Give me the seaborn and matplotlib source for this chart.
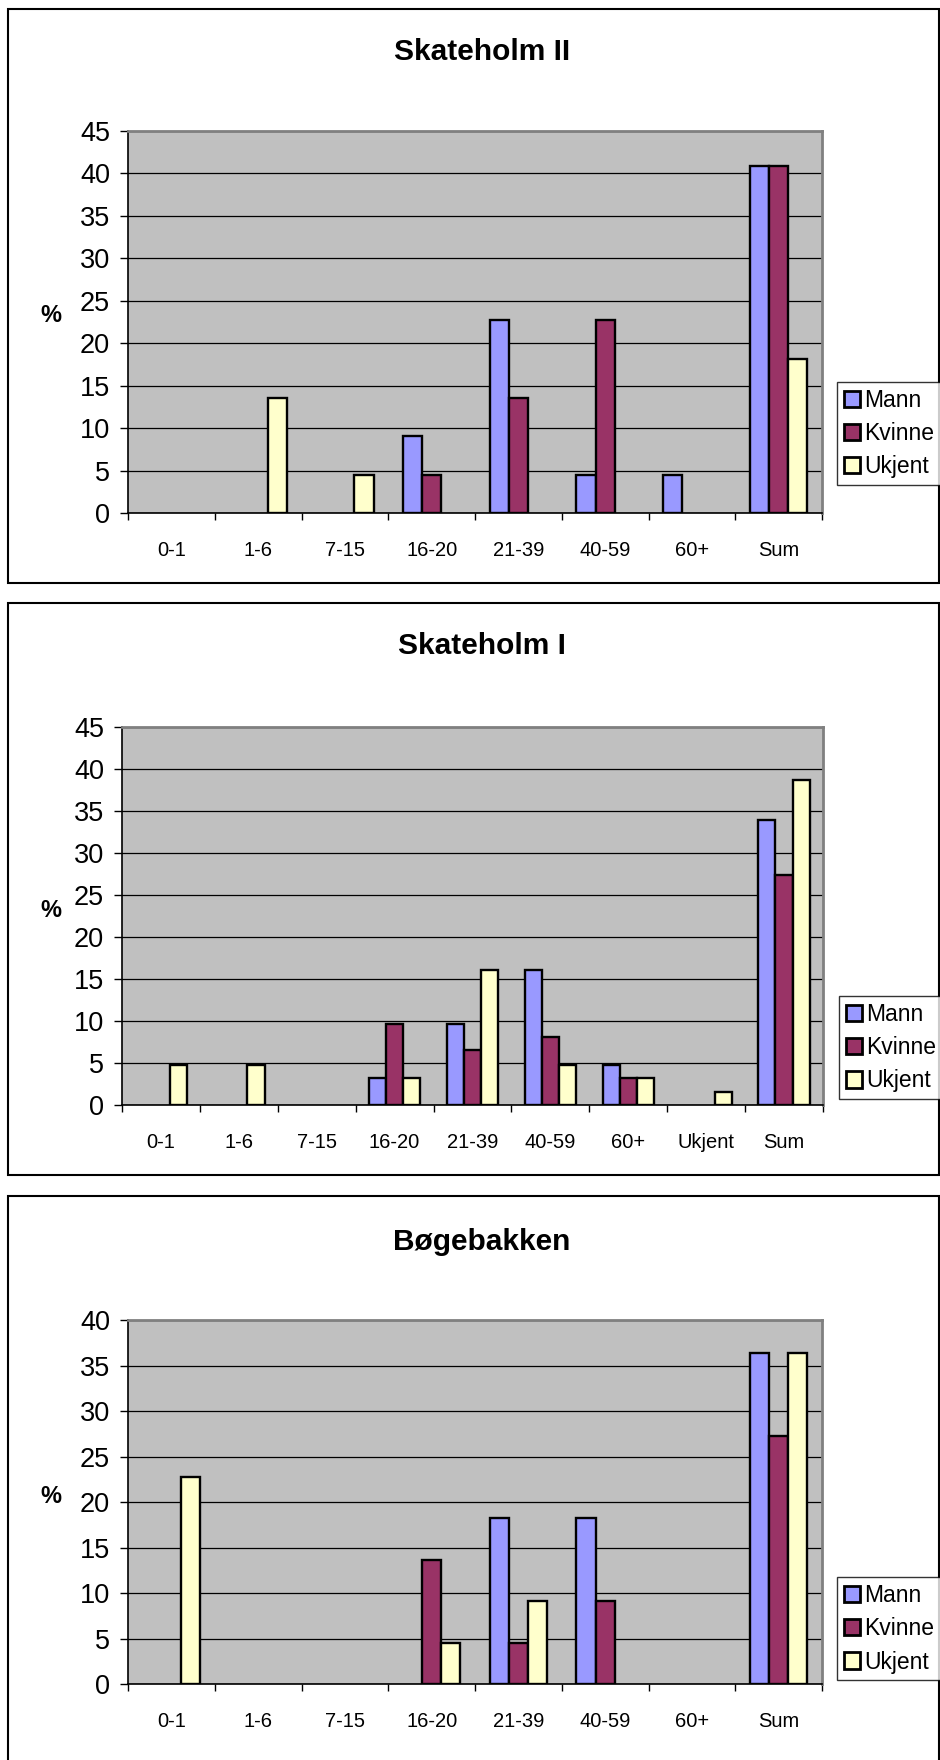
import numpy as np
import pandas as pd
import matplotlib
matplotlib.use('Agg')
import matplotlib.pyplot as plt
import seaborn as sns
from matplotlib.patches import Rectangle, Patch

# Data (percent of individuals per age group and sex)
sexes = ['Mann', 'Kvinne', 'Ukjent']
ages_8 = ['0-1', '1-6', '7-15', '16-20', '21-39', '40-59', '60+', 'Sum']
ages_9 = ['0-1', '1-6', '7-15', '16-20', '21-39', '40-59', '60+', 'Ukjent', 'Sum']

# Skateholm II
sk2_mann = [0, 0, 0, 9.1, 22.7, 4.5, 4.5, 40.9]
sk2_kvinne = [0, 0, 0, 4.5, 13.6, 22.7, 0, 40.9]
sk2_ukjent = [0, 13.6, 4.5, 0, 0, 0, 0, 18.2]

# Skateholm I
sk1_mann = [0, 0, 0, 3.2, 9.7, 16.1, 4.8, 0, 33.9]
sk1_kvinne = [0, 0, 0, 9.7, 6.5, 8.1, 3.2, 0, 27.4]
sk1_ukjent = [4.8, 4.8, 0, 3.2, 16.1, 4.8, 3.2, 1.6, 38.7]

# Bøgebakken
bb_mann = [0, 0, 0, 0, 18.2, 18.2, 0, 36.4]
bb_kvinne = [0, 0, 0, 13.6, 4.5, 9.1, 0, 27.3]
bb_ukjent = [22.7, 0, 0, 4.5, 9.1, 0, 0, 36.4]

palette = {'Mann': '#9999FF', 'Kvinne': '#993366', 'Ukjent': '#FFFFCC'}

plt.rcParams['font.family'] = ['Liberation Sans', 'DejaVu Sans']

W, H = 940, 1760
fig = plt.figure(figsize=(W / 100, H / 100), dpi=100)


def to_long(ages, mann, kvinne, ukjent):
    rows = []
    for sex, vals in zip(sexes, [mann, kvinne, ukjent]):
        for a, v in zip(ages, vals):
            if v > 0:
                rows.append({'Alder': a, 'Kjønn': sex, 'Prosent': v})
    return pd.DataFrame(rows)


def panel(box, frame, title, title_y, ages, mann, kvinne, ukjent, ymax, legend_xy):
    l, t, r, b = box
    # outer frame
    fl, ft, fr, fb = frame
    fig.patches.append(Rectangle((fl / W, 1 - fb / H), (fr - fl) / W, (fb - ft) / H,
                                 transform=fig.transFigure, fill=False,
                                 edgecolor='black', linewidth=1.5, zorder=0))
    ax = fig.add_axes([l / W, 1 - b / H, (r - l) / W, (b - t) / H])
    df = to_long(ages, mann, kvinne, ukjent)
    sns.barplot(data=df, x='Alder', y='Prosent', hue='Kjønn', order=ages,
                hue_order=sexes, palette=palette, width=0.66, ax=ax,
                edgecolor='black', linewidth=1.7, saturation=1, legend=False,
                zorder=3)
    n = len(ages)
    ax.set_facecolor('#C0C0C0')
    ax.set_xlim(-0.5, n - 0.5)
    ax.set_ylim(0, ymax)
    ax.set_yticks(np.arange(0, ymax + 1, 5))
    ax.yaxis.grid(True, color='black', linewidth=0.9, zorder=1)
    ax.set_axisbelow(True)
    # category boundaries as major ticks, labels on minor ticks
    ax.set_xticks(np.arange(n + 1) - 0.5)
    ax.set_xticklabels([])
    ax.set_xticks(np.arange(n), minor=True)
    ax.set_xticklabels(ages, minor=True)
    ax.tick_params(axis='x', which='major', length=5, width=1, direction='out')
    ax.tick_params(axis='x', which='minor', length=0, pad=20, labelsize=14.5)
    ax.tick_params(axis='y', length=6, width=1, direction='out', pad=7, labelsize=19.5)
    for side in ['top', 'right']:
        ax.spines[side].set_color('#808080')
        ax.spines[side].set_linewidth(2)
    for side in ['left', 'bottom']:
        ax.spines[side].set_color('black')
        ax.spines[side].set_linewidth(1.2)
    ax.set_xlabel('')
    ax.set_ylabel('')
    fig.text(51 / W, 1 - ((t + b) / 2 - 6) / H, '%', fontsize=17, fontweight='bold',
             ha='center', va='center')
    fig.text(482 / W, 1 - title_y / H, title, fontsize=21.5, fontweight='bold',
             ha='center', va='center')
    handles = [Patch(facecolor=palette[s], edgecolor='black', linewidth=2) for s in sexes]
    leg = fig.legend(handles, sexes, loc='upper left',
                     bbox_to_anchor=(legend_xy[0] / W, 1 - legend_xy[1] / H),
                     frameon=True, fancybox=False, edgecolor='black', fontsize=16.5,
                     handlelength=0.7, handleheight=0.7, handletextpad=0.2,
                     labelspacing=0.45, borderpad=0.3, borderaxespad=0)
    leg.get_frame().set_linewidth(1)
    return ax


panel((128, 131, 822, 513), (8, 9, 939, 583), 'Skateholm II', 52,
      ages_8, sk2_mann, sk2_kvinne, sk2_ukjent, 45, (837, 382))
panel((122, 727, 823, 1105), (8, 603, 939, 1175), 'Skateholm I', 646,
      ages_9, sk1_mann, sk1_kvinne, sk1_ukjent, 45, (839, 996))
panel((128, 1320, 822, 1684), (8, 1196, 939, 1800), 'Bøgebakken', 1242,
      ages_8, bb_mann, bb_kvinne, bb_ukjent, 40, (837, 1577))

fig.savefig('out.png', dpi=100, facecolor='white')
plt.close(fig)
